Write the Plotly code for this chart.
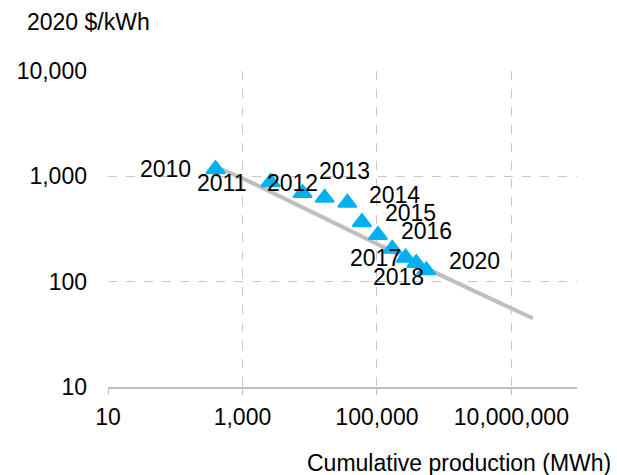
import math
import plotly.graph_objects as go

# battery pack price vs cumulative production
years = ["2010", "2011", "2012", "2013", "2014", "2015", "2016", "2017", "2018", "2019", "2020"]
production_mwh = [398, 2620, 7830, 16700, 36300, 59800, 103500, 169000, 267000, 385000, 543000]
price_usd_kwh = [1170, 881, 693, 625, 561, 367, 277, 205, 169, 150, 128]
show_label = [True, True, True, True, True, True, True, True, True, False, True]

# learning curve
curve_x = [456, 1000, 10000, 100000, 1000000, 10000000, 20900000]
curve_y = [1183, 960, 470, 226, 111, 55.8, 44.9]

x_ticks = [10, 1000, 100000, 10000000]
x_ticktext = ["10", "1,000", "100,000", "10,000,000"]
y_ticks = [10, 100, 1000, 10000]
y_ticktext = ["10", "100", "1,000", "10,000"]

# label offsets in px (dx, dy) relative to the marker
label_offsets = [(-50, 0), (-49, -1), (-10, 10), (20, 27), (47, 8),
                 (49, 9), (49, 4), (-17, -9), (-7, -19), (0, 0), (48, 9)]

FONT = "Liberation Sans, Arial, sans-serif"
GRID = "#c8c8c8"

fig = go.Figure()
fig.add_trace(go.Scatter(
    x=curve_x, y=curve_y, mode="lines",
    line=dict(color="#bfbfbf", width=4),
    hoverinfo="skip", showlegend=False,
))
fig.add_trace(go.Scatter(
    x=production_mwh, y=price_usd_kwh, mode="markers",
    marker=dict(symbol="triangle-up", size=16, color="#00b0f0",
                line=dict(color="#00b0f0", width=2)),
    text=years, showlegend=False,
))

# data labels (log axes -> annotation coords in log10)
for yr, xv, yv, show, (dx, dy) in zip(years, production_mwh, price_usd_kwh,
                                       show_label, label_offsets):
    if not show:
        continue
    fig.add_annotation(
        x=math.log10(xv), y=math.log10(yv), xref="x", yref="y",
        text=yr, showarrow=False, xshift=dx, yshift=dy,
        font=dict(family=FONT, size=23, color="black"),
    )

fig.add_annotation(
    text="2020 $/kWh", xref="paper", yref="paper", x=-0.178, y=1.154,
    xanchor="left", yanchor="middle", showarrow=False,
    font=dict(family=FONT, size=23, color="black"),
)
fig.add_annotation(
    text="Cumulative production (MWh)", xref="paper", yref="paper", x=1.076, y=-0.24,
    xanchor="right", yanchor="middle", showarrow=False,
    font=dict(family=FONT, size=23, color="black"),
)

fig.update_xaxes(
    type="log", range=[1, 7.976],
    tickvals=x_ticks, ticktext=x_ticktext,
    showgrid=True, gridcolor=GRID, griddash="dash", gridwidth=1,
    showline=True, linecolor="#bfbfbf", linewidth=2,
    ticks="outside", ticklen=6, tickcolor="#bfbfbf", tickwidth=1,
    ticklabelstandoff=2, zeroline=False,
    tickfont=dict(family=FONT, size=23, color="black"),
)
fig.update_yaxes(
    type="log", range=[1, 4],
    tickvals=y_ticks, ticktext=y_ticktext,
    showgrid=True, gridcolor=GRID, griddash="dash", gridwidth=1,
    showline=False, ticks="", ticklabelstandoff=20, zeroline=False,
    tickfont=dict(family=FONT, size=23, color="black"),
)
fig.update_layout(
    width=617, height=475,
    margin=dict(l=108, r=40, t=71, b=88),
    plot_bgcolor="white", paper_bgcolor="white",
)

# drop the browser's default body margin so the figure sits at 0,0
fig.write_html("out.html", config={"displayModeBar": False},
               post_script="document.body.style.margin='0';")
